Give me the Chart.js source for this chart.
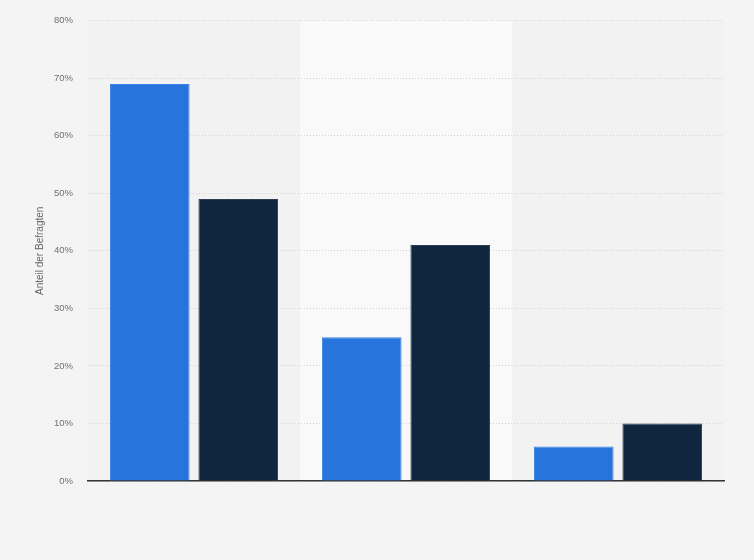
<!DOCTYPE html>
<html>
<head>
<meta charset="utf-8">
<script src="https://cdn.jsdelivr.net/npm/chart.js@4/dist/chart.umd.min.js"></script>
<style>
  html, body { margin:0; padding:0; background:#f4f4f4; }
  #wrap { width:754px; height:560px; position:relative; }
</style>
</head>
<body>
<div id="wrap"><canvas id="chart"></canvas></div>
<script>
// categorie (nel grafico originale senza etichette visibili)
const CATEGORIES = ["Gruppe 1", "Gruppe 2", "Gruppe 3"];
const SERIES_A = [69, 25, 6];
const SERIES_B = [49, 41, 10];
const Y_TICKS = [0, 10, 20, 30, 40, 50, 60, 70, 80];

// banda centrale più chiara
const bandPlugin = {
  id: "bands",
  beforeDraw(chart){
    const { ctx, chartArea: a } = chart;
    if (!a) return;
    ctx.save();
    ctx.fillStyle = "#f2f2f2";
    ctx.fillRect(a.left, a.top, a.right - a.left, a.bottom - a.top);
    const w = (a.right - a.left) / CATEGORIES.length;
    ctx.fillStyle = "#f9f9f9";
    ctx.fillRect(a.left + w, a.top, w, a.bottom - a.top);
    ctx.restore();
  }
};

new Chart(document.getElementById("chart"), {
  type: "bar",
  data: {
    labels: CATEGORIES,
    datasets: [
      { label: "Serie A", data: SERIES_A, backgroundColor: "#2775dc", borderColor: "#3a84e4", borderWidth: 1,
        categoryPercentage: 0.835, barPercentage: 0.9 },
      { label: "Serie B", data: SERIES_B, backgroundColor: "#10263f", borderColor: "#2a3d52", borderWidth: 1,
        categoryPercentage: 0.835, barPercentage: 0.9 }
    ]
  },
  options: {
    responsive: true, maintainAspectRatio: false, animation: false,
    layout: { padding: { top: 20, right: 30, left: 0, bottom: 0 } },
    plugins: { legend: { display: false }, tooltip: { enabled: false } },
    scales: {
      x: {
        ticks: { display: false },
        grid: { display: false },
        border: { display: true, color: "#333", width: 1.5 },
        afterFit(s){ s.height = 79; }
      },
      y: {
        min: 0, max: 80,
        afterBuildTicks(s){ s.ticks = Y_TICKS.map(v => ({ value: v })); },
        afterFit(s){ s.width = 88; },
        ticks: { callback: v => v + "%", color: "#707070", font: { family: "Arial, Liberation Sans", size: 9.5 }, padding: 15 },
        grid: { color: "#d2d2d2", lineWidth: 1, drawTicks: false },
        border: { display: false, dash: [1, 2] },
        title: { display: true, text: "Anteil der Befragten", color: "#666",
          font: { family: "Arial, Liberation Sans", size: 10 }, padding: { top: 34, bottom: 0 } }
      }
    }
  },
  plugins: [bandPlugin]
});
</script>
</body>
</html>
